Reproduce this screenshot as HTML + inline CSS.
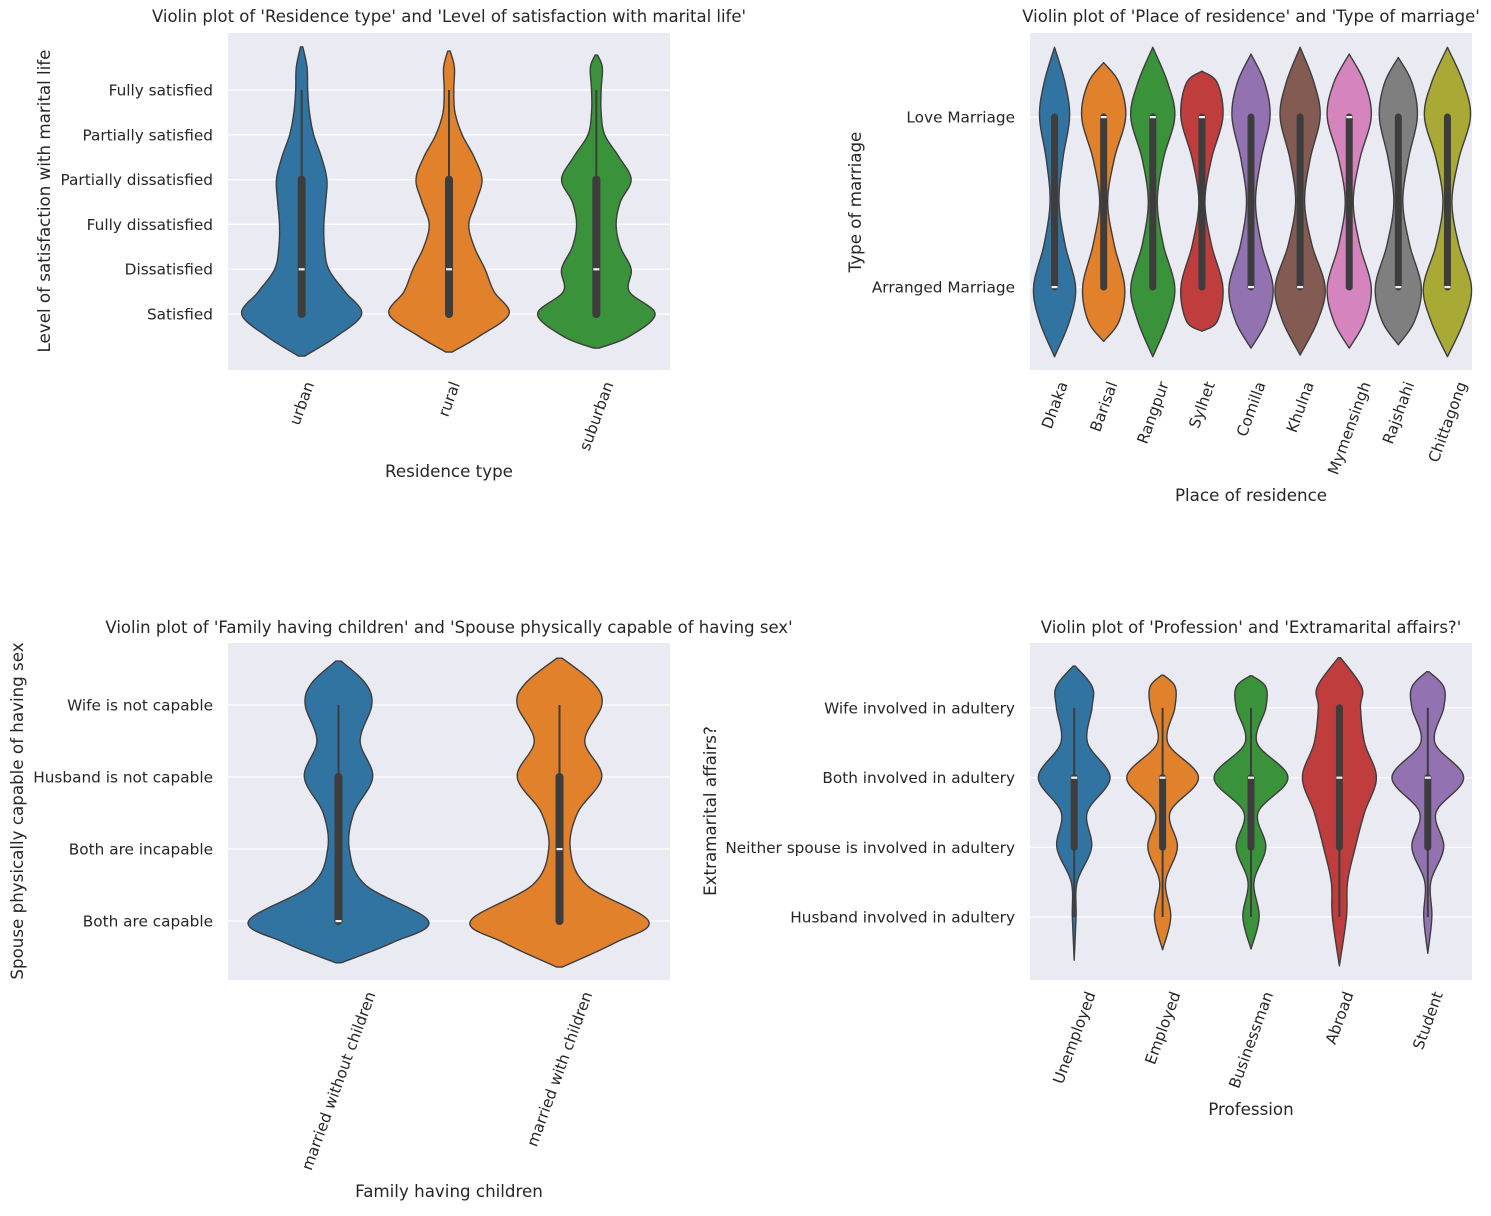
<!DOCTYPE html>
<html><head><meta charset="utf-8">
<style>
html,body{margin:0;padding:0;background:#fff;}
svg text{font-family:"DejaVu Sans","Liberation Sans",sans-serif;fill:#262626;}
</style></head>
<body>
<svg id="chart" width="1491" height="1211" viewBox="0 0 1491 1211" xmlns="http://www.w3.org/2000/svg"></svg>
<script>
// ---------- Panel A data ----------
const catsA = ["urban","rural","suburban"];
const ticksA = ["Satisfied","Dissatisfied","Fully dissatisfied","Partially dissatisfied","Partially satisfied","Fully satisfied"];
const valsA = [
  [-0.94,-0.5,0,0.5,1,1.5,2,2.5,3,3.5,4,4.5,5,5.5,5.96],
  [-0.85,-0.5,0,0.5,1,1.5,2,2.5,3,3.5,4,4.5,5,5.5,5.87],
  [-0.76,-0.5,0,0.5,1,1.5,2,2.5,3,3.5,4,4.5,5,5.5,5.78]];
const densA = [
  [0.05,0.58,1.0,0.72,0.45,0.38,0.37,0.4,0.42,0.33,0.2,0.13,0.1,0.09,0.02],
  [0.05,0.5,1.0,0.75,0.6,0.42,0.33,0.45,0.55,0.42,0.22,0.1,0.08,0.09,0.02],
  [0.05,0.55,0.98,0.55,0.58,0.4,0.33,0.4,0.58,0.38,0.14,0.08,0.08,0.1,0.02]];
const q1A=[0,0,0], q3A=[3,3,3], medA=[1,1,1], wloA=[0,0,0], whiA=[5,5,5];

// ---------- Panel B data ----------
const catsB = ["Dhaka","Barisal","Rangpur","Sylhet","Comilla","Khulna","Mymensingh","Rajshahi","Chittagong"];
const ticksB = ["Arranged Marriage","Love Marriage"];
const loB = [-0.41,-0.32,-0.41,-0.26,-0.36,-0.40,-0.36,-0.34,-0.41];
const hiB = [1.41,1.32,1.41,1.27,1.37,1.41,1.37,1.35,1.41];
const midB = [-0.2,0,0.25,0.5,0.75,1,1.2];
const densB = [
  [0,0.6,0.84,0.42,0.18,0.33,0.6,0.42,0],
  [0,0.62,0.84,0.42,0.16,0.42,0.88,0.62,0],
  [0,0.6,0.88,0.42,0.18,0.42,0.88,0.6,0],
  [0,0.62,0.84,0.38,0.12,0.38,0.84,0.62,0],
  [0,0.62,0.88,0.42,0.18,0.4,0.76,0.55,0],
  [0,0.7,1.0,0.47,0.18,0.4,0.8,0.56,0],
  [0,0.62,0.88,0.42,0.16,0.42,0.88,0.62,0],
  [0,0.65,0.92,0.45,0.18,0.4,0.76,0.55,0],
  [0,0.66,0.96,0.45,0.18,0.45,0.92,0.64,0]];
const q1B=[0,0,0,0,0,0,0,0,0], q3B=[1,1,1,1,1,1,1,1,1], medB=[0,1,1,1,0,0,1,0,0];

// ---------- Panel C data ----------
const catsC = ["married without children","married with children"];
const ticksC = ["Both are capable","Both are incapable","Husband is not capable","Wife is not capable"];
const valsC = [
  [-0.58,-0.3,0,0.5,1,1.5,2,2.5,3,3.3,3.61],
  [-0.64,-0.3,0,0.5,1,1.5,2,2.5,3,3.3,3.65]];
const densC = [
  [0.03,0.6,1.0,0.3,0.12,0.17,0.38,0.24,0.37,0.3,0.03],
  [0.03,0.62,0.99,0.3,0.12,0.2,0.47,0.28,0.47,0.38,0.03]];
const q1C=[0,0], q3C=[2,2], medC=[0,1], wloC=[0,0], whiC=[3,3];

// ---------- Panel D data ----------
const catsD = ["Unemployed","Employed","Businessman","Abroad","Student"];
const ticksD = ["Husband involved in adultery","Neither spouse is involved in adultery","Both involved in adultery","Wife involved in adultery"];
const loD = [-0.62,-0.47,-0.46,-0.7,-0.52];
const hiD = [3.6,3.47,3.46,3.72,3.52];
const midD = [0,0.5,1,1.5,2,2.5,3,3.3];
const densD = [
  [0,0.05,0.08,0.47,0.35,0.97,0.36,0.48,0.49,0.03],
  [0,0.22,0.08,0.4,0.2,0.97,0.14,0.33,0.34,0.03],
  [0,0.22,0.08,0.4,0.19,1.0,0.16,0.4,0.4,0.03],
  [0,0.19,0.22,0.43,0.68,1.0,0.68,0.57,0.6,0.03],
  [0,0.11,0.08,0.43,0.22,0.97,0.19,0.43,0.43,0.03]];
const q1D=[1,1,1,1,1], q3D=[2,2,2,3,2], medD=[2,2,2,2,2], wloD=[0,0,0,0,0], whiD=[3,3,3,3,3];

const COLORS = ["#3274a1","#e1812c","#3a923a","#c03d3e","#9372b2","#845b53","#d684bd","#7f7f7f","#a9aa35"];
const TICK_FS=15.3, TITLE_FS=16.5, LABEL_FS=16.7;
const NS="http://www.w3.org/2000/svg";
const svg=document.getElementById('chart');
function mk(tag,attrs,parent){const e=document.createElementNS(NS,tag);for(const k in attrs)e.setAttribute(k,attrs[k]);(parent||svg).appendChild(e);return e;}

function crSample(vals,dens){
  const pts=[];const n=vals.length;
  for(let i=0;i<n-1;i++){
    const i0=Math.max(0,i-1),i3=Math.min(n-1,i+2);
    for(let s=0;s<12;s++){
      const t=s/12,t2=t*t,t3=t2*t;
      const f=(p0,p1,p2,p3)=>0.5*((2*p1)+(-p0+p2)*t+(2*p0-5*p1+4*p2-p3)*t2+(-p0+3*p1-3*p2+p3)*t3);
      pts.push([f(vals[i0],vals[i],vals[i+1],vals[i3]),Math.max(0,f(dens[i0],dens[i],dens[i+1],dens[i3]))]);
    }
  }
  pts.push([vals[n-1],dens[n-1]]);return pts;
}

function panel(o){
  const g=mk('g',{});
  
  
  const bg=mk('rect',{x:o.x0,y:o.y0,width:o.x1-o.x0,height:o.y1-o.y0,fill:'#eaeaf2'},g);
  
  
  const yS=v=>o.yBase-v*o.yStep;
  const n=o.cats.length, band=(o.x1-o.x0)/n;
  const xS=i=>o.x0+band*(i+0.5);
  o.ticks.forEach((t,i)=>{
    const y=yS(i);
    const gl=mk('line',{x1:o.x0,x2:o.x1,y1:y,y2:y,stroke:'#fff','stroke-width':1.2},g);
    
    
    const tx=mk('text',{x:o.x0-15,y:y+5.5,'text-anchor':'end','font-size':TICK_FS},g);
    tx.textContent=t;
    
    
  });
  o.cats.forEach((c,i)=>{
    const cx=xS(i);
    const pts=crSample(o.vals[i],o.dens[i]);
    let d='';
    pts.forEach((p,k)=>{d+=(k?'L':'M')+(cx+p[1]*o.maxW).toFixed(2)+','+yS(p[0]).toFixed(2);});
    for(let k=pts.length-1;k>=0;k--){const p=pts[k];d+='L'+(cx-p[1]*o.maxW).toFixed(2)+','+yS(p[0]).toFixed(2);}
    d+='Z';
    const v=mk('path',{d:d,fill:COLORS[i],stroke:'#3d3d3d','stroke-width':1.4,'stroke-linejoin':'round'},g);
    
    
    const w=mk('line',{x1:cx,x2:cx,y1:yS(o.wlo[i]),y2:yS(o.whi[i]),stroke:'#3d3d3d','stroke-width':2},g);
    
    
    const b=mk('line',{x1:cx,x2:cx,y1:yS(o.q1[i]),y2:yS(o.q3[i]),stroke:'#3d3d3d','stroke-width':o.boxW,'stroke-linecap':'round'},g);
    
    
    const m=mk('rect',{x:cx-3,y:yS(o.med[i])-1,width:6,height:2.2,fill:'#f0f0f0'},g);
    
    
    const tl=mk('text',{x:0,y:0,'text-anchor':'end','font-size':TICK_FS},g);
    tl.textContent=c;
    
    
    const L=tl.getComputedTextLength();
    const px=cx+L*Math.cos(70*Math.PI/180)/2+5, py=o.y1+14;
    tl.setAttribute('transform','translate('+px+','+py+') rotate(-70)');
  });
  const tt=mk('text',{x:o.tx,y:o.ty,'text-anchor':'middle','font-size':TITLE_FS},g);
  tt.textContent=o.title;
  
  
  const xl=mk('text',{x:o.xlx,y:o.xly,'text-anchor':'middle','font-size':LABEL_FS},g);
  xl.textContent=o.xlabel;
  
  
  const yl=mk('text',{x:0,y:0,'text-anchor':'middle','font-size':LABEL_FS,transform:'translate('+o.ylx+','+o.yly+') rotate(-90)'},g);
  yl.textContent=o.ylabel;
  
  
}

function expand(lo,hi,mid){return lo.map((l,i)=>[l].concat(mid,[hi[i]]));}

panel({name:'panel-residence-satisfaction',x0:228,x1:670,y0:33,y1:370,yBase:314,yStep:44.8,cats:catsA,ticks:ticksA,vals:valsA,dens:densA,maxW:60,q1:q1A,q3:q3A,med:medA,wlo:wloA,whi:whiA,boxW:8,
  title:"Violin plot of 'Residence type' and 'Level of satisfaction with marital life'",tx:449,ty:22,xlabel:'Residence type',xlx:449,xly:477,ylabel:'Level of satisfaction with marital life',ylx:50,yly:201});
panel({name:'panel-place-marriage',x0:1030,x1:1472,y0:33,y1:370,yBase:287,yStep:170,cats:catsB,ticks:ticksB,vals:expand(loB,hiB,midB),dens:densB,maxW:25,q1:q1B,q3:q3B,med:medB,wlo:q1B,whi:q3B,boxW:7,
  title:"Violin plot of 'Place of residence' and 'Type of marriage'",tx:1251,ty:22,xlabel:'Place of residence',xlx:1251,xly:501,ylabel:'Type of marriage',ylx:861,yly:202});
panel({name:'panel-children-capability',x0:228,x1:670,y0:643,y1:980,yBase:921,yStep:72,cats:catsC,ticks:ticksC,vals:valsC,dens:densC,maxW:90,q1:q1C,q3:q3C,med:medC,wlo:wloC,whi:whiC,boxW:8,
  title:"Violin plot of 'Family having children' and 'Spouse physically capable of having sex'",tx:449,ty:633,xlabel:'Family having children',xlx:449,xly:1197,ylabel:'Spouse physically capable of having sex',ylx:23,yly:811});
panel({name:'panel-profession-affairs',x0:1030,x1:1472,y0:643,y1:980,yBase:917,yStep:69.7,cats:catsD,ticks:ticksD,vals:expand(loD,hiD,midD),dens:densD,maxW:37,q1:q1D,q3:q3D,med:medD,wlo:wloD,whi:whiD,boxW:7,
  title:"Violin plot of 'Profession' and 'Extramarital affairs?'",tx:1251,ty:633,xlabel:'Profession',xlx:1251,xly:1115,ylabel:'Extramarital affairs?',ylx:716,yly:811});
</script>
</body></html>
